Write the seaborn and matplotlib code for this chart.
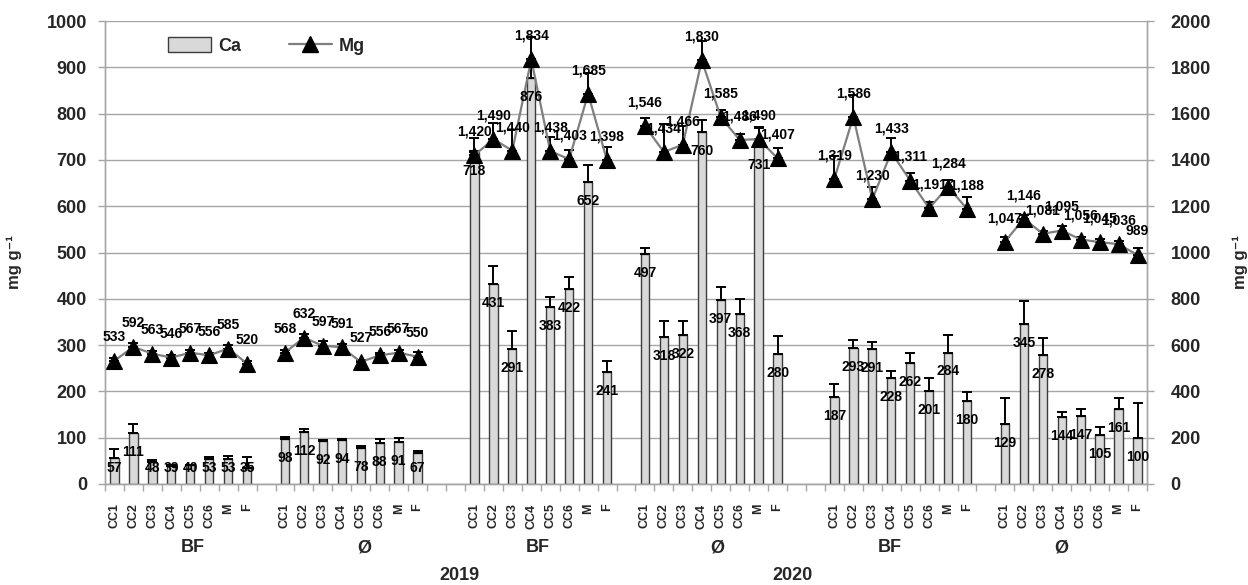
import numpy as np
import pandas as pd
import matplotlib
matplotlib.use("Agg")
import matplotlib.pyplot as plt
import matplotlib.transforms as mtransforms
from matplotlib.patches import Patch
from matplotlib.lines import Line2D
import seaborn as sns

# ---- data -------------------------------------------------------------
categories = ["CC1", "CC2", "CC3", "CC4", "CC5", "CC6", "M", "F"]
treatments = ["BF", "Ø", "BF", "Ø", "BF", "Ø"]
years = ["2019", "2020"]

ca_values = [
    [57, 111, 48, 39, 40, 53, 53, 35],
    [98, 112, 92, 94, 78, 88, 91, 67],
    [718, 431, 291, 876, 383, 422, 652, 241],
    [497, 318, 322, 760, 397, 368, 731, 280],
    [187, 293, 291, 228, 262, 201, 284, 180],
    [129, 345, 278, 144, 147, 105, 161, 100],
]
ca_errors = [
    [18, 19, 3, 2, 2, 6, 8, 23],
    [4, 6, 3, 4, 4, 9, 8, 5],
    [29, 40, 40, 30, 20, 26, 37, 25],
    [12, 33, 31, 26, 28, 31, 38, 40],
    [30, 18, 16, 15, 22, 27, 38, 19],
    [56, 51, 37, 12, 16, 19, 24, 76],
]
mg_values = [
    [533, 592, 563, 546, 567, 556, 585, 520],
    [568, 632, 597, 591, 527, 556, 567, 550],
    [1420, 1490, 1440, 1834, 1438, 1403, 1685, 1398],
    [1546, 1434, 1466, 1830, 1585, 1486, 1490, 1407],
    [1319, 1586, 1230, 1433, 1311, 1191, 1284, 1188],
    [1047, 1146, 1081, 1095, 1056, 1045, 1036, 989],
]
mg_errors = [
    [10, 15, 12, 10, 12, 10, 15, 12],
    [12, 15, 21, 12, 10, 12, 12, 21],
    [20, 70, 90, 95, 60, 40, 90, 56],
    [34, 120, 80, 85, 30, 25, 50, 43],
    [100, 95, 54, 60, 34, 25, 30, 50],
    [22, 15, 10, 20, 12, 12, 12, 29],
]

# first slot of each treatment block on the category axis (empty slots between blocks)
group_start = [0, 9, 19, 28, 38, 47]
n_slots = 55

rows = []
for g, start in enumerate(group_start):
    for i, cat in enumerate(categories):
        rows.append(dict(slot=start + i, grp=g, cat=cat,
                         Ca=ca_values[g][i], Ca_err=ca_errors[g][i],
                         Mg=mg_values[g][i], Mg_err=mg_errors[g][i]))
df = pd.DataFrame(rows)

# ---- style ------------------------------------------------------------
sns.set_theme(style="white")
plt.rcParams["font.family"] = ["Liberation Sans", "DejaVu Sans"]
plt.rcParams["font.weight"] = "bold"

BAR_FILL = "#d9d9d9"
BAR_EDGE = "#3c3c3c"
LINE_COL = "#7f7f7f"
GRID_COL = "#a6a6a6"

fig = plt.figure(figsize=(12.48, 5.85), dpi=100)
ax = fig.add_axes([105 / 1248, 101 / 585, 1042 / 1248, 463 / 585])
ax.set_axisbelow(True)

# Ca bars on the left axis
sns.barplot(data=df, x="slot", y="Ca", native_scale=True, width=0.44,
            color=BAR_FILL, saturation=1, edgecolor=BAR_EDGE, linewidth=1.0,
            errorbar=None, ax=ax)
ax.errorbar(df["slot"], df["Ca"], yerr=[np.zeros(len(df)), df["Ca_err"]],
            fmt="none", ecolor="black", elinewidth=1.4, capsize=3.5,
            capthick=1.4, zorder=3)

ax.set_xlim(-0.5, n_slots - 0.5)
ax.set_ylim(0, 1000)
ax.set_yticks(np.arange(0, 1001, 100))
ax.yaxis.grid(True, color=GRID_COL, lw=1)
ax.xaxis.grid(False)

# Mg line on the right axis
ax2 = ax.twinx()
ax2.set_ylim(0, 2000)
ax2.set_yticks(np.arange(0, 2001, 200))
ax2.errorbar(df["slot"], df["Mg"], yerr=[np.zeros(len(df)), df["Mg_err"]],
             fmt="none", ecolor="black", elinewidth=1.4, capsize=3.5,
             capthick=1.4, zorder=2)
sns.lineplot(data=df, x="slot", y="Mg", units="grp", estimator=None,
             color=LINE_COL, lw=1.6, marker="^", markersize=12,
             markerfacecolor="black", markeredgecolor="black",
             markeredgewidth=0.8, ax=ax2, zorder=3)
ax2.set_xlim(-0.5, n_slots - 0.5)

# data labels
for _, r in df.iterrows():
    ax2.annotate(f"{int(r.Mg):,}", (r.slot, r.Mg), xytext=(0, 17),
                 textcoords="offset points", ha="center", va="center",
                 fontsize=10, fontweight="bold", color="black", zorder=5)
    ax2.text(r.slot, max(r.Ca - 41, 35), f"{int(r.Ca)}",
             transform=ax.transData, ha="center", va="center",
             fontsize=10, fontweight="bold", color="black", zorder=5)

# x axis: category names at slot centres, tick marks at slot boundaries
ax.set_xticks(df["slot"])
ax.set_xticklabels(df["cat"], rotation=90, fontsize=9, fontweight="bold")
ax.set_xticks(np.arange(-0.5, n_slots, 1), minor=True)
ax.tick_params(axis="x", which="major", length=0, pad=14)
ax.tick_params(axis="x", which="minor", length=5, width=1, color=GRID_COL,
               direction="out", bottom=True)
ax.set_xlabel("")

ax.tick_params(axis="y", length=5, width=1, color=GRID_COL, direction="out",
               left=True, labelsize=13, pad=8)
ax2.tick_params(axis="y", length=5, width=1, color=GRID_COL, direction="out",
                right=True, labelsize=13, pad=12)
for lab in ax.get_yticklabels() + ax2.get_yticklabels():
    lab.set_fontweight("bold")

for a in (ax, ax2):
    a.spines["top"].set_visible(False)
    for s in ("left", "right", "bottom"):
        a.spines[s].set_color(GRID_COL)
        a.spines[s].set_linewidth(1)

ax.set_ylabel("mg g⁻¹", fontsize=12, fontweight="bold")
ax.yaxis.set_label_coords(-0.08, 0.48)
ax2.set_ylabel("mg g⁻¹", fontsize=12, fontweight="bold", rotation=90)
ax2.yaxis.set_label_coords(1.082, 0.48)

# treatment and year labels below the category names
trans = mtransforms.blended_transform_factory(ax.transData, ax.transAxes)
treat_pos = [4.14, 13.2, 22.35, 31.8, 40.9, 50.0]
for name, xp in zip(treatments, treat_pos):
    ax.text(xp, -0.138, name, transform=trans, ha="center", va="center",
            fontsize=13, fontweight="bold")
year_pos = [18.2, 35.8]
for name, xp in zip(years, year_pos):
    ax.text(xp, -0.197, name, transform=trans, ha="center", va="center",
            fontsize=13, fontweight="bold")

# legend
handles = [
    Patch(facecolor=BAR_FILL, edgecolor=BAR_EDGE, linewidth=1.0, label="Ca"),
    Line2D([], [], color=LINE_COL, lw=1.6, marker="^", markersize=12,
           markerfacecolor="black", markeredgecolor="black", label="Mg"),
]
ax2.legend(handles=handles, loc="center left", bbox_to_anchor=(0.045, 0.946),
           ncol=2, frameon=False, handlelength=2.4, handleheight=0.9,
           columnspacing=2.6, handletextpad=0.4,
           prop={"size": 13, "weight": "bold"})

fig.savefig("out.png", dpi=100)
